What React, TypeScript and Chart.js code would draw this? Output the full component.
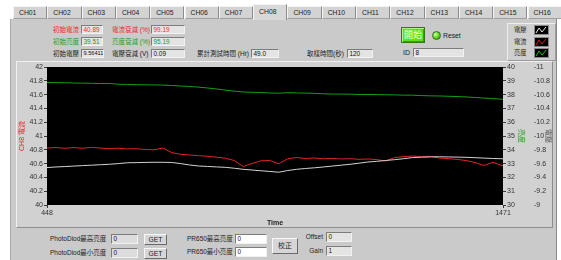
import React, { useEffect, useRef } from 'react';
import { Chart, registerables } from 'chart.js';

Chart.register(...registerables);

// ---------------- data ----------------
const TIMES = [
  448, 468, 488, 508, 528, 548, 568, 588, 608, 628, 648, 668, 688, 708, 728, 748, 768, 788, 808, 828,
  848, 868, 888, 908, 928, 948, 968, 988, 1008, 1028, 1048, 1068, 1088, 1108, 1128, 1148, 1168, 1188,
  1208, 1228, 1248, 1268, 1288, 1308, 1328, 1348, 1368, 1388, 1408, 1428, 1448, 1471,
];

// 電流 (left axis 40..42)
const CURRENT = [
  40.826, 40.833, 40.822, 40.832, 40.823, 40.835, 40.825, 40.817, 40.823, 40.813,
  40.816, 40.804, 40.8, 40.826, 40.759, 40.735, 40.725, 40.714, 40.707, 40.693,
  40.678, 40.645, 40.558, 40.601, 40.641, 40.645, 40.597, 40.67, 40.688, 40.674,
  40.681, 40.67, 40.675, 40.667, 40.671, 40.662, 40.667, 40.658, 40.638, 40.688,
  40.701, 40.709, 40.703, 40.706, 40.681, 40.672, 40.661, 40.645, 40.616, 40.572,
  40.619, 40.565,
];

// 亮度 (right axis 30..40)
const LUMINANCE = [
  38.88, 38.87, 38.86, 38.84, 38.83, 38.82, 38.8, 38.81, 38.75, 38.74,
  38.72, 38.71, 38.7, 38.69, 38.66, 38.62, 38.59, 38.54, 38.48, 38.41,
  38.33, 38.25, 38.19, 38.17, 38.15, 38.12, 38.1, 38.14, 38.12, 38.11,
  38.09, 38.06, 38.04, 38.04, 38.03, 38.01, 38.01, 38.0, 37.99, 37.98,
  37.96, 37.96, 37.93, 37.91, 37.9, 37.88, 37.86, 37.83, 37.79, 37.75,
  37.71, 37.66,
];

// 電壓 (outer right axis -11..-9, top = -11)
const VOLTAGE = [
  -9.543, -9.551, -9.557, -9.564, -9.571, -9.577, -9.584, -9.59, -9.6, -9.612,
  -9.614, -9.617, -9.619, -9.619, -9.616, -9.6, -9.58, -9.565, -9.559, -9.552,
  -9.546, -9.533, -9.517, -9.507, -9.496, -9.486, -9.475, -9.5, -9.517, -9.529,
  -9.539, -9.551, -9.564, -9.577, -9.59, -9.606, -9.623, -9.633, -9.645, -9.657,
  -9.671, -9.687, -9.693, -9.697, -9.699, -9.697, -9.694, -9.691, -9.686, -9.68,
  -9.674, -9.67,
];

const X_TICKS = [448, 1471];
const TABS = ['CH01', 'CH02', 'CH03', 'CH04', 'CH05', 'CH06', 'CH07', 'CH08', 'CH09', 'CH10', 'CH11', 'CH12', 'CH13', 'CH14', 'CH15', 'CH16'];
const ACTIVE_TAB = 'CH08';

const FONT = '"Liberation Sans", "Noto Sans CJK TC", sans-serif';
const RED = '#e8282c';
const GREEN = '#1e9a1e';

const fmt = (v: any) => String(Number(Number(v).toFixed(1)));

// ---------------- small UI helpers ----------------
function Txt({ x, y, children, color = '#1c1c1c', size = 6.5, bold = false, w, align }: any) {
  return (
    <div
      style={{
        position: 'absolute', left: x, top: y - 5, height: 10, lineHeight: '10px', fontSize: size,
        color, whiteSpace: 'nowrap', fontWeight: bold ? 700 : 400, width: w, textAlign: align,
      }}
    >
      {children}
    </div>
  );
}

function Box({ x, y, w, h = 9, value, color = '#111', bg = '#e4e4e4', size = 6.4 }: any) {
  return (
    <div
      style={{
        position: 'absolute', left: x, top: y, width: w, height: h, boxSizing: 'border-box', background: bg,
        borderTop: '1px solid #7c7c7c', borderLeft: '1px solid #7c7c7c', borderRight: '1px solid #f2f2f2',
        borderBottom: '1px solid #f2f2f2', fontSize: size, lineHeight: `${h - 2}px`, paddingLeft: 1.5, color,
        overflow: 'hidden', whiteSpace: 'nowrap',
      }}
    >
      {value}
    </div>
  );
}

function Btn({ x, y, w, h, label, size = 6.8 }: any) {
  return (
    <div
      style={{
        position: 'absolute', left: x, top: y, width: w, height: h, boxSizing: 'border-box', background: '#d6d6d6',
        borderTop: '1px solid #f8f8f8', borderLeft: '1px solid #f8f8f8', borderRight: '1px solid #6a6a6a',
        borderBottom: '1px solid #6a6a6a', fontSize: size, lineHeight: `${h - 2}px`, textAlign: 'center', color: '#222',
      }}
    >
      {label}
    </div>
  );
}

function LegendIcon({ y, color }: any) {
  return (
    <svg style={{ position: 'absolute', left: 534, top: y, width: 15, height: 10 }} width={15} height={10}>
      <rect x={0.5} y={0.5} width={14} height={9} fill="#000" stroke="#8a8a8a" />
      <polyline points="2,8 5,3 8,7 12,2" fill="none" stroke={color} strokeWidth={1} />
    </svg>
  );
}

// ---------------- chart ----------------
const plotBg = {
  id: 'plotBg',
  beforeDraw(chart: any) {
    const { ctx, chartArea } = chart;
    if (!chartArea) return;
    ctx.save();
    ctx.fillStyle = '#000';
    ctx.fillRect(chartArea.left, chartArea.top, chartArea.right - chartArea.left, chartArea.bottom - chartArea.top);
    ctx.restore();
  },
};

function TrendChart() {
  const ref = useRef<HTMLCanvasElement | null>(null);
  useEffect(() => {
    if (!ref.current) return;
    Chart.defaults.font.family = FONT;
    const tickGrid = { display: true, drawOnChartArea: false, drawTicks: true, tickLength: 3, color: '#3a3a3a' };
    const chart = new Chart(ref.current, {
      type: 'line',
      data: {
        datasets: [
          {
            label: '電壓', yAxisID: 'yV', data: TIMES.map((t, i) => ({ x: t, y: VOLTAGE[i] })),
            borderColor: '#d2d2d2', borderWidth: 1, pointRadius: 0, tension: 0,
          },
          {
            label: '電流', yAxisID: 'yI', data: TIMES.map((t, i) => ({ x: t, y: CURRENT[i] })),
            borderColor: '#e02424', borderWidth: 1, pointRadius: 0, tension: 0,
          },
          {
            label: '亮度', yAxisID: 'yL', data: TIMES.map((t, i) => ({ x: t, y: LUMINANCE[i] })),
            borderColor: '#12a012', borderWidth: 1, pointRadius: 0, tension: 0,
          },
        ],
      },
      options: {
        animation: false,
        responsive: false,
        devicePixelRatio: 1,
        layout: { padding: { top: 6, left: 0, right: 0, bottom: 0 } },
        plugins: { legend: { display: false }, tooltip: { enabled: false } },
        scales: {
          x: {
            type: 'linear', min: 448, max: 1471,
            afterBuildTicks: (s: any) => { s.ticks = X_TICKS.map((v) => ({ value: v })); },
            afterFit: (s: any) => { s.height = 23; },
            grid: tickGrid, border: { display: false },
            ticks: { font: { size: 7 }, color: '#333', padding: 1, maxRotation: 0, autoSkip: false, callback: (v: any) => String(v) },
            title: { display: true, text: 'Time', font: { size: 7, weight: 'bold' }, color: '#222', padding: { top: 0, bottom: 1 } },
          },
          yI: {
            position: 'left', min: 40, max: 42,
            afterFit: (s: any) => { s.width = 31; },
            grid: tickGrid, border: { display: false },
            ticks: { stepSize: 0.2, font: { size: 7 }, color: '#333', padding: 1, autoSkip: false, callback: fmt },
            title: { display: true, text: 'CH8 電流', color: RED, font: { size: 7 }, padding: { top: 2, bottom: 0 } },
          },
          yL: {
            position: 'right', min: 30, max: 40,
            afterFit: (s: any) => { s.width = 22; },
            grid: tickGrid, border: { display: false },
            ticks: { stepSize: 1, font: { size: 7 }, color: '#333', padding: 1, autoSkip: false, callback: fmt },
            title: { display: true, text: '亮度', color: GREEN, font: { size: 7 }, padding: { top: 0, bottom: 0 } },
          },
          yV: {
            position: 'right', min: -11, max: -9, reverse: true,
            afterFit: (s: any) => { s.width = 28; },
            grid: { display: false }, border: { display: false },
            ticks: { stepSize: 0.2, font: { size: 7 }, color: '#333', padding: 1, autoSkip: false, callback: fmt },
            title: { display: true, text: '電壓', color: '#555', font: { size: 7 }, padding: { top: 1, bottom: 0 } },
          },
        },
      },
      plugins: [plotBg],
    } as any);
    return () => chart.destroy();
  }, []);
  return (
    <canvas ref={ref} width={537} height={167} style={{ position: 'absolute', left: 16, top: 61, width: 537, height: 167 }} />
  );
}

// ---------------- app ----------------
export default function App() {
  const tabW = 34.3;
  return (
    <div style={{ position: 'absolute', left: 0, top: 0, width: 561, height: 260, background: '#fff', overflow: 'hidden', fontFamily: FONT }}>
      {/* panel */}
      <div style={{ position: 'absolute', left: 10, top: 19, width: 547, height: 241, background: '#cacaca', borderLeft: '1px solid #a8a8a8', borderRight: '1px solid #8a8a8a', boxSizing: 'border-box' }} />
      {/* tabs */}
      {TABS.map((t, i) => {
        const active = t === ACTIVE_TAB;
        return (
          <div
            key={t}
            style={{
              position: 'absolute', left: 13 + i * tabW, top: active ? 4 : 6, width: tabW, height: active ? 16 : 13,
              boxSizing: 'border-box', background: active ? '#d8d8d8' : '#d3d3d3',
              borderTop: '1px solid #f4f4f4', borderLeft: '1px solid #f4f4f4', borderRight: '1px solid #8c8c8c',
              borderBottom: active ? 'none' : '1px solid #a0a0a0', fontSize: 6.8, lineHeight: active ? '13px' : '11px',
              paddingLeft: 5, color: '#222',
            }}
          >
            {t}
          </div>
        );
      })}

      {/* top value controls */}
      <Txt x={53} y={29.5} color={RED}>初始電流</Txt>
      <Box x={81} y={25} w={22} value="40.89" color="#ff2a2a" />
      <Txt x={112} y={29.5} color={RED}>電流衰減 (%)</Txt>
      <Box x={151} y={25} w={34} value="99.19" color="#ff2a2a" />

      <Txt x={53} y={41.5} color={GREEN}>初始亮度</Txt>
      <Box x={81} y={37} w={22} value="39.51" color={GREEN} />
      <Txt x={112} y={41.5} color={GREEN}>亮度衰減 (%)</Txt>
      <Box x={151} y={37} w={34} value="95.19" color={GREEN} />

      <Txt x={53} y={53.5}>初始電壓</Txt>
      <Box x={81} y={49} w={23} value="9.56411" size={5.6} />
      <Txt x={112} y={53.5}>電壓衰減 (V)</Txt>
      <Box x={151} y={49} w={34} value="0.09" />

      <Txt x={197} y={53.5}>累計測試時間 (Hr)</Txt>
      <Box x={251} y={49} w={28} value="49.0" />
      <Txt x={307} y={53.5}>取樣時間(秒)</Txt>
      <Box x={347} y={49} w={26} value="120" />

      {/* start button, LED, reset */}
      <div style={{ position: 'absolute', left: 401, top: 27, width: 24, height: 16, boxSizing: 'border-box', background: '#5ee21e', border: '1px solid #2f7d12', boxShadow: 'inset 1px 1px 0 #a8f580, inset -1px -1px 0 #3aa012', color: '#f4fff0', fontSize: 9, lineHeight: '14px', textAlign: 'center' }}>開始</div>
      <div style={{ position: 'absolute', left: 432, top: 31, width: 9, height: 9, borderRadius: '50%', background: 'radial-gradient(circle at 35% 35%, #d8ffb0 0%, #5fe020 45%, #2c8a0a 100%)', border: '0.5px solid #3a6a2a', boxSizing: 'border-box' }} />
      <Txt x={443} y={35.5} size={6.8}>Reset</Txt>
      <Txt x={403} y={52.5} size={7}>ID</Txt>
      <Box x={413} y={48} w={51} value="8" />

      {/* legend */}
      <div style={{ position: 'absolute', left: 507, top: 23, width: 49, height: 38, boxSizing: 'border-box', background: '#cfcfcf', borderTop: '1px solid #eeeeee', borderLeft: '1px solid #eeeeee', borderRight: '1px solid #9a9a9a', borderBottom: '1px solid #9a9a9a' }} />
      <Txt x={514} y={30} size={6.3}>電壓</Txt>
      <LegendIcon y={25} color="#e8e8e8" />
      <Txt x={514} y={41.5} size={6.3}>電流</Txt>
      <LegendIcon y={36.5} color="#d02020" />
      <Txt x={514} y={53} size={6.3}>亮度</Txt>
      <LegendIcon y={48} color="#18c018" />

      {/* chart frame */}
      <div style={{ position: 'absolute', left: 16, top: 61, width: 537, height: 167, boxSizing: 'border-box', background: '#d1d1d1', borderTop: '1px solid #f0f0f0', borderLeft: '1px solid #f0f0f0', borderRight: '1px solid #8e8e8e', borderBottom: '1px solid #8e8e8e' }} />
      <TrendChart />

      {/* bottom controls */}
      <Txt x={50} y={239}>PhotoDiod最高亮度</Txt>
      <Box x={111} y={234} w={27} h={10} value="0" bg="#dcdcdc" />
      <Btn x={144} y={233.5} w={23} h={11} label="GET" />
      <Txt x={50} y={252.5}>PhotoDiod最小亮度</Txt>
      <Box x={111} y={247.5} w={27} h={10} value="0" bg="#dcdcdc" />
      <Btn x={144} y={247.5} w={23} h={11} label="GET" />

      <Txt x={187} y={239}>PR650最高亮度</Txt>
      <Box x={235} y={234} w={32} h={10} value="0" bg="#ffffff" />
      <Txt x={187} y={252}>PR650最小亮度</Txt>
      <Box x={235} y={247} w={32} h={10} value="0" bg="#ffffff" />
      <Btn x={272} y={238} w={26} h={16} label="校正" size={7} />

      <Txt x={284} y={236.5} w={39} align="right">Offset</Txt>
      <Box x={326} y={232} w={26} h={10} value="0" />
      <Txt x={284} y={250.5} w={39} align="right">Gain</Txt>
      <Box x={326} y={245.5} w={26} h={10} value="1" />
    </div>
  );
}
